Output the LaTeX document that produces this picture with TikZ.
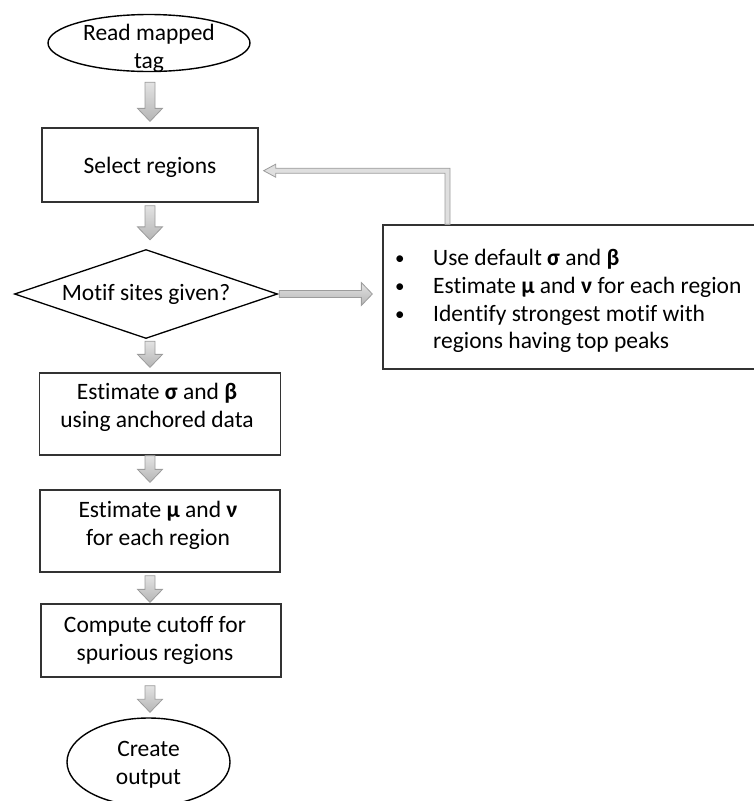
\documentclass[tikz,border=0pt]{standalone}
\usepackage{fontspec}
\setmainfont{Carlito}[Ligatures=NoCommon]
\usetikzlibrary{shapes.geometric,calc}
\tikzset{
  base/.style={font=\fontsize{23.5}{28}\selectfont, align=center, inner sep=0pt},
  procbox/.style={base, rectangle, draw=black!80, line width=1.3pt},
  termnode/.style={base, ellipse, draw=black, line width=1.4pt},
  decision/.style={base, diamond, draw=black, line width=1.3pt, aspect=2.96},
  blockarrow/.style={draw=gray!78, line width=0.8pt, top color=gray!22, bottom color=gray!58},
  hblockarrow/.style={draw=gray!78, line width=0.8pt, top color=gray!22, bottom color=gray!58},
  backarrow/.style={draw=gray!78, line width=0.8pt, fill=gray!25},
}
\newcommand\vflow[4]{%
  \path[blockarrow] let \p1=($(axis |- #1)+(0,#3)$), \p2=($(axis |- #2)-(0,#4)$) in
    (\x1-5pt,\y1) -- (\x1+5pt,\y1) -- (\x1+5pt,\y2+13pt) -- (\x1+12.5pt,\y2+13pt)
    -- (\x1,\y2) -- (\x1-12.5pt,\y2+13pt) -- (\x1-5pt,\y2+13pt) -- cycle;}
\newcommand\bul{\raisebox{0.8pt}{\fontsize{19}{19}\selectfont •}}
\begin{document}
\begin{tikzpicture}[x=1pt,y=-1pt]
\useasboundingbox (0,0) rectangle (753,801);
\coordinate (axis) at (150,0);
\node[termnode, minimum width=202pt, minimum height=57pt] (read) at (149,43) {};
\node[base] (readtxt) at (149,48) {Read mapped\\tag};
\node[procbox, minimum width=216pt, minimum height=74pt] (sel) at (150,165) {};
\node[base] (seltxt) at (150,167) {Select regions};
\node[decision, minimum width=263pt, minimum height=89pt] (motif) at (146,294) {Motif sites given?};
\node[procbox, minimum width=241pt, minimum height=82pt] (est1) at (160,414) {};
\node[base] (est1txt) at (157,407) {Estimate \textbf{σ} and \textbf{β}\\using anchored data};
\node[procbox, minimum width=240pt, minimum height=82pt] (est2) at (160,531) {};
\node[base] (est2txt) at (158,525.5) {Estimate \textbf{μ} and \textbf{ν}\\for each region};
\node[procbox, minimum width=240pt, minimum height=73pt] (comp) at (161,640.5) {};
\node[base] (comptxt) at (155,640) {Compute cutoff for\\spurious regions};
\node[termnode, minimum width=163pt, minimum height=88pt] (out) at (148.5,762) {};
\node[base] (outtxt) at (148.5,765) {Create\\output};
\node[procbox, minimum width=377pt, minimum height=144pt] (rbox) at (571.5,297) {};
\node[base, anchor=north west, align=left] (rtext) at (395,246) {%
  \renewcommand\arraystretch{0.99}%
  \begin{tabular}{@{}p{38pt}@{}l@{}}
  \bul & Use default \textbf{σ} and \textbf{β}\\
  \bul & Estimate \textbf{μ} and \textbf{ν} for each region\\
  \bul & Identify strongest motif with\\
    & regions having top peaks
  \end{tabular}};
\coordinate (fbx) at (447.5,170.7);
% vertical block arrows
\vflow{read.south}{sel.north}{10}{6}
\vflow{sel.south}{motif.north}{3}{9}
\vflow{motif.south}{est1.north}{2}{5}
\vflow{est1.south}{est2.north}{0}{7}
\vflow{est2.south}{comp.north}{3}{1}
\vflow{comp.south}{out.north}{8}{5}
% horizontal block arrow
\path[hblockarrow] let \p1=($(motif.east)+(1,0)$), \p2=($(rbox.west)-(10,0)$) in
  (\x1,\y1+3.5pt) -- (\x2-11pt,\y1+3.5pt) -- (\x2-11pt,\y1+11.5pt) -- (\x2,\y1)
  -- (\x2-11pt,\y1-11.5pt) -- (\x2-11pt,\y1-3.5pt) -- (\x1,\y1-3.5pt) -- cycle;
% feedback hollow arrow
\path[backarrow] let \p1=(sel.east), \p2=(rbox.north -| fbx), \p3=(fbx) in
  (\x1+5pt,\y3) -- (\x1+17pt,\y3+6.5pt) -- (\x1+17pt,\y3+2.5pt) -- (\x3+2.5pt,\y3+2.5pt)
  -- (\x3+2.5pt,\y2) -- (\x3-2.5pt,\y2) -- (\x3-2.5pt,\y3-2.5pt) -- (\x1+17pt,\y3-2.5pt)
  -- (\x1+17pt,\y3-6.5pt) -- cycle;
\end{tikzpicture}
\end{document}
